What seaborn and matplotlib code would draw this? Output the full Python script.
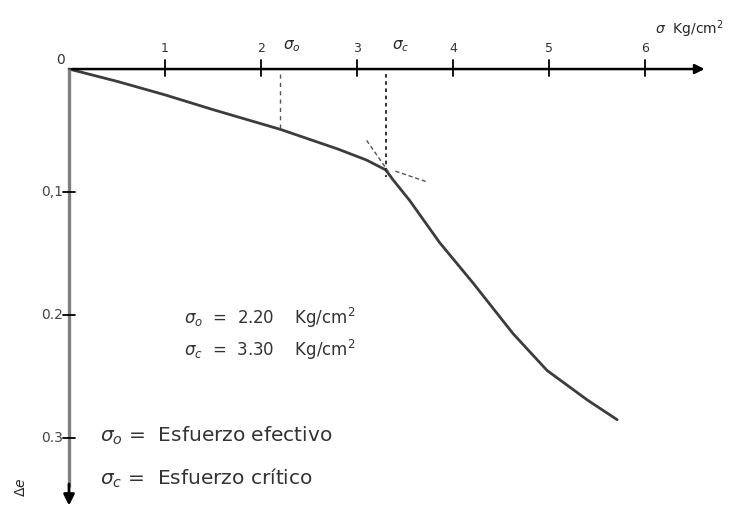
import numpy as np
import pandas as pd
import matplotlib
matplotlib.use('Agg')
import matplotlib.pyplot as plt
import seaborn as sns

# curve (sigma in Kg/cm2, settlement ratio)
sigma = [0.0, 0.5, 1.0, 1.5, 2.2, 2.8, 3.1, 3.3, 3.375, 3.55, 3.86, 4.21, 4.625, 4.98, 5.4, 5.71]
delta = [0.0, 0.010, 0.021, 0.033, 0.049, 0.065, 0.074, 0.082, 0.090, 0.107, 0.141, 0.174, 0.215, 0.245, 0.269, 0.285]

x_ticks = [1, 2, 3, 4, 5, 6]
y_ticks = [0.1, 0.2, 0.3]
y_tick_labels = ['0,1', '0.2', '0.3']

sigma_0 = 2.2
sigma_c = 3.3
# tangent construction near sigma_c
tangent_steep = ([3.10, 3.35], [0.058, 0.086])
tangent_flat = ([3.40, 3.74], [0.083, 0.092])

sns.set_style('white')
plt.rcParams['font.family'] = ['DejaVu Sans']

fig = plt.figure(figsize=(7.41, 5.12), dpi=100)
ax = fig.add_axes([0, 0, 1, 1])
ax.set_xlim(-0.719, 7.0)
ax.set_ylim(0.360, -0.0561)
ax.axis('off')

df = pd.DataFrame({'sigma': sigma, 'delta': delta})
sns.lineplot(data=df, x='sigma', y='delta', color='#3c3c3c', lw=2.0, ax=ax, sort=False)

# axes with arrows
ax.annotate('', xy=(6.65, 0), xytext=(0, 0),
            arrowprops=dict(arrowstyle='-|>', color='black', lw=1.8, mutation_scale=14))
ax.plot([0, 0], [0, 0.340], color='#808080', lw=2.4, solid_capstyle='butt')
ax.annotate('', xy=(0, 0.357), xytext=(0, 0.335),
            arrowprops=dict(arrowstyle='-|>', color='black', lw=2.0, mutation_scale=16))

for t in x_ticks:
    ax.plot([t, t], [-0.007, 0.006], color='black', lw=1.3)
    ax.text(t, -0.011, str(t), ha='center', va='bottom', fontsize=9, color='#333333')
ax.text(-0.04, -0.002, '0', ha='right', va='bottom', fontsize=10, color='#333333')

for t, lab in zip(y_ticks, y_tick_labels):
    ax.plot([-0.06, 0.06], [t, t], color='black', lw=1.3)
    ax.text(-0.06, t, lab, ha='right', va='center', fontsize=10, color='#444444')

# dashed verticals
d0 = np.interp(sigma_0, sigma, delta)
dc = np.interp(sigma_c, sigma, delta) + 0.006
ax.plot([sigma_0, sigma_0], [0.004, d0], color='#555555', lw=1, ls=(0, (3, 3)))
ax.plot([sigma_c, sigma_c], [0.004, dc], color='#222222', lw=1.3, ls=(0, (2, 2)))
ax.plot(*tangent_steep, color='#555555', lw=1, ls=(0, (3, 2)))
ax.plot(*tangent_flat, color='#555555', lw=1, ls=(0, (3, 2)))

ax.text(sigma_0 + 0.12, -0.012, r'$\sigma_o$', ha='center', va='bottom', fontsize=11)
ax.text(sigma_c + 0.15, -0.012, r'$\sigma_c$', ha='center', va='bottom', fontsize=11)
ax.text(6.1, -0.032, r'$\sigma$  Kg/cm$^2$', ha='left', va='center', fontsize=10)

ax.text(1.2, 0.202, r'$\sigma_o$  =  2.20    Kg/cm$^2$', ha='left', va='center', fontsize=12,
        color='#333333')
ax.text(1.2, 0.228, r'$\sigma_c$  =  3.30    Kg/cm$^2$', ha='left', va='center', fontsize=12,
        color='#333333')
ax.text(0.32, 0.298, r'$\sigma_o$ =  Esfuerzo efectivo', ha='left', va='center', fontsize=14.5,
        color='#333333')
ax.text(0.32, 0.333, r'$\sigma_c$ =  Esfuerzo crítico', ha='left', va='center', fontsize=14.5,
        color='#333333')
ax.text(-0.5, 0.340, r'$\Delta e$', ha='center', va='center', fontsize=10, rotation=90)

fig.savefig('out.png', dpi=100)
